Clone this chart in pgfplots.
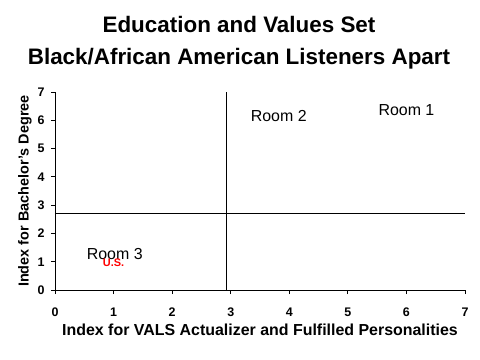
\documentclass[border=0pt]{standalone}
\usepackage{pgfplots}
\pgfplotsset{compat=1.18}
\usepackage{fontspec}
\setmainfont{Liberation Sans}
\begin{document}
\begin{tikzpicture}
\useasboundingbox (-55bp,-70bp) rectangle (425bp,290bp);
\begin{axis}[
  at={(0,0)}, anchor=south west,
  scale only axis, width=410bp, height=198bp,
  xmin=0, xmax=7, ymin=0, ymax=7,
  axis x line*=bottom, axis y line*=left,
  axis line style={-, line width=0.8pt},
  xtick={0,1,...,7}, ytick={0,1,...,7},
  tick align=outside, major tick length=4bp,
  tick style={black, line width=0.8pt},
  /pgf/number format/assume math mode=true,
  ticklabel style={font=\fontsize{12.5}{14}\selectfont\bfseries},
  xticklabel style={yshift=-10bp},
  yticklabel style={xshift=-3bp},
  xlabel={Index for VALS Actualizer and Fulfilled Personalities},
  ylabel={Index for Bachelor's Degree},
  xlabel style={font=\fontsize{16}{18}\selectfont\bfseries, yshift=-1bp},
  ylabel style={font=\fontsize{14.5}{16}\selectfont\bfseries, yshift=-1bp},
  clip=false,
]
\addplot[black, line width=0.8pt] coordinates {(2.92,0) (2.92,7)};
\addplot[black, line width=0.8pt] coordinates {(0,2.7) (7,2.7)};
\addplot[only marks, mark=none, nodes near coords={\textcolor{red}{U.S.}},
  nodes near coords style={font=\fontsize{11}{13}\selectfont\bfseries, anchor=center}]
  coordinates {(1.0,0.95)};
\node[font=\fontsize{16}{18}\selectfont] at (axis cs:1.02,1.27) {Room 3};
\node[font=\fontsize{16}{18}\selectfont] at (axis cs:3.82,6.15) {Room 2};
\node[font=\fontsize{16}{18}\selectfont] at (axis cs:6.0,6.36) {Room 1};
\end{axis}
\node[font=\fontsize{22.5}{32}\selectfont\bfseries, align=center] at (184bp,247bp)
  {Education and Values Set\\Black/African American Listeners Apart};
\end{tikzpicture}
\end{document}
